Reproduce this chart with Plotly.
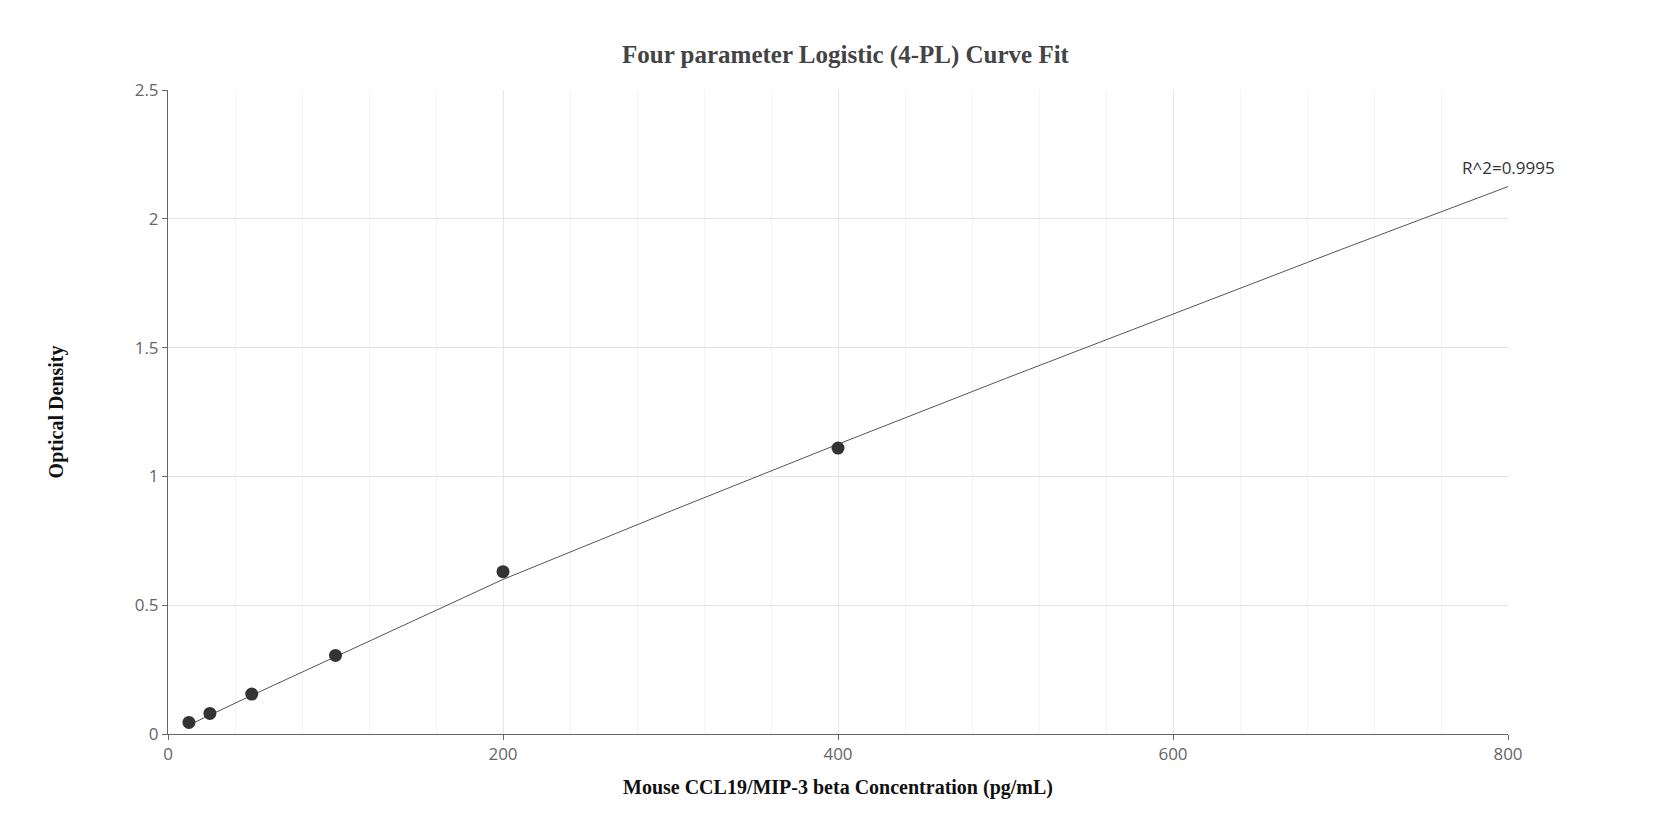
import plotly.graph_objects as go

# standards
conc = [12.5, 25, 50, 100, 200, 400]
od = [0.045, 0.080, 0.155, 0.305, 0.630, 1.110]

# fitted curve
fit_x = [12.5, 50, 100, 200, 300, 400, 500, 600, 700, 800]
fit_y = [0.035, 0.15, 0.30, 0.60, 0.865, 1.125, 1.38, 1.63, 1.88, 2.125]

r2_text = "R^2=0.9995"

fig = go.Figure()
fig.add_trace(go.Scatter(x=fit_x, y=fit_y, mode="lines",
                         line=dict(color="#555555", width=1), hoverinfo="skip"))
fig.add_trace(go.Scatter(x=conc, y=od, mode="markers",
                         marker=dict(color="#333333", size=13)))
fig.add_annotation(x=fit_x[-1], y=fit_y[-1], text=r2_text, showarrow=False,
                   xanchor="center", yanchor="bottom", yshift=6,
                   font=dict(family="Open Sans", size=17, color="#333333"))

fig.update_layout(
    width=1675, height=840, showlegend=False,
    plot_bgcolor="white", paper_bgcolor="white",
    margin=dict(l=160, r=175, t=82, b=114),
    title=dict(text="<b>Four parameter Logistic (4-PL) Curve Fit</b>", x=0.5, y=0.955,
               xanchor="center", font=dict(family="Times New Roman, Liberation Serif",
                                           size=25, color="#444444")),
    font=dict(family="Open Sans", size=17, color="#666666"),
)
fig.update_xaxes(range=[0, 800], dtick=200, showline=True, linecolor="#666666",
                 gridcolor="#e3e5ee", ticks="outside", ticklen=5, tickcolor="#666666",
                 minor=dict(dtick=40, showgrid=True, gridcolor="#f3f4f8"),
                 zeroline=False,
                 title=dict(text="<b>Mouse CCL19/MIP-3 beta Concentration (pg/mL)</b>",
                            font=dict(family="Times New Roman, Liberation Serif", size=20,
                                      color="#111111"), standoff=15))
fig.update_yaxes(range=[0, 2.5], dtick=0.5, showline=True, linecolor="#666666",
                 gridcolor="#e3e5ee", ticks="outside", ticklen=5, tickcolor="#666666",
                 zeroline=False,
                 title=dict(text="<b>Optical Density</b>",
                            font=dict(family="Times New Roman, Liberation Serif", size=20,
                                      color="#111111"), standoff=65))

fig.write_html("out.html")
